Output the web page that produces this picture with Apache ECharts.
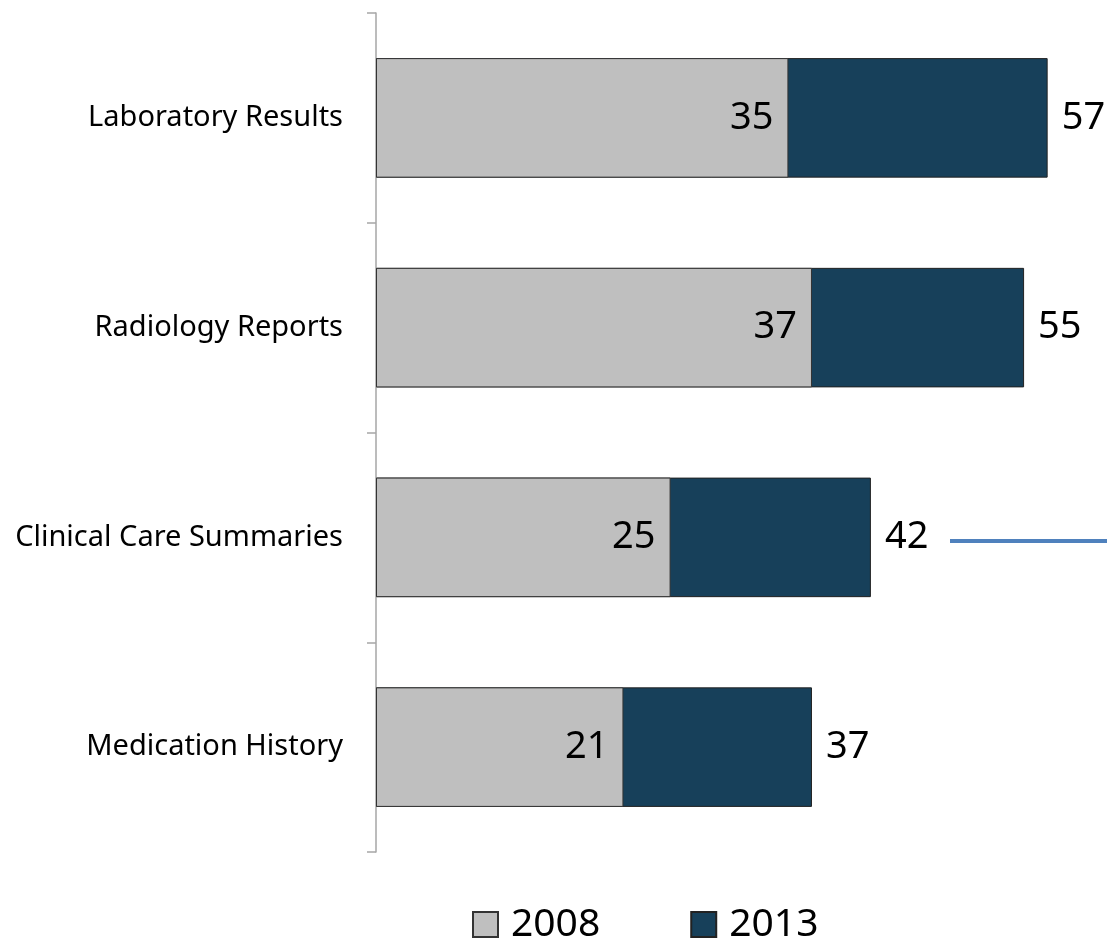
<!DOCTYPE html>
<html>
<head>
<meta charset="utf-8">
<script src="https://cdn.jsdelivr.net/npm/echarts@6/dist/echarts.min.js"></script>
<style>
    html, body { margin: 0; padding: 0; background: #fff; }
    #chart { width: 1107px; height: 940px; }
</style>
</head>
<body>
<div id="chart"></div>
<script>
// 数据
const categories = ['Laboratory Results', 'Radiology Reports', 'Clinical Care Summaries', 'Medication History'];
const values2008 = [35, 37, 25, 21];
const values2013 = [57, 55, 42, 37];

const FONT = 'Noto Sans';

const chart = echarts.init(document.getElementById('chart'));

const option = {
    animation: false,
    textStyle: {fontFamily: FONT},
    legend: {
        data: ['2008', '2013'],
        top: 900,
        left: 467,
        itemWidth: 25,
        itemHeight: 25,
        itemGap: 90,
        icon: 'rect',
        textStyle: {fontSize: 39, color: '#000', fontFamily: FONT, padding: [0, 0, 0, 8]}
    },
    grid: {
        left: 376,
        top: 13,
        width: 707,
        bottom: 88
    },
    xAxis: {
        type: 'value',
        min: 0,
        max: 60,
        show: false
    },
    yAxis: {
        type: 'category',
        inverse: true,
        data: categories,
        axisLine: {show: true, lineStyle: {color: '#a6a6a6', width: 1.5}},
        axisTick: {show: true, length: 9, lineStyle: {color: '#a6a6a6', width: 1.5}},
        axisLabel: {fontSize: 29, color: '#000', margin: 33, fontFamily: FONT}
    },
    series: [
        {
            // 2013 先画, 在后面
            name: '2013',
            type: 'bar',
            data: values2013,
            barWidth: '57%',
            barGap: '-100%',
            z: 1,
            itemStyle: {color: '#17405a', borderColor: '#222', borderWidth: 1},
            label: {
                show: true,
                position: 'right',
                distance: 14,
                fontSize: 38,
                color: '#000',
                fontFamily: FONT
            }
        },
        {
            name: '2008',
            type: 'bar',
            data: values2008,
            barWidth: '57%',
            z: 2,
            itemStyle: {color: '#bfbfbf', borderColor: '#333', borderWidth: 1},
            label: {
                show: true,
                position: 'insideRight',
                distance: 15,
                fontSize: 38,
                color: '#000',
                fontFamily: FONT
            }
        }
    ],
    graphic: [
        {
            type: 'line',
            shape: {x1: 950, y1: 541, x2: 1107, y2: 541},
            style: {stroke: '#4f81bd', lineWidth: 4}
        }
    ]
};

chart.setOption(option);
</script>
</body>
</html>
